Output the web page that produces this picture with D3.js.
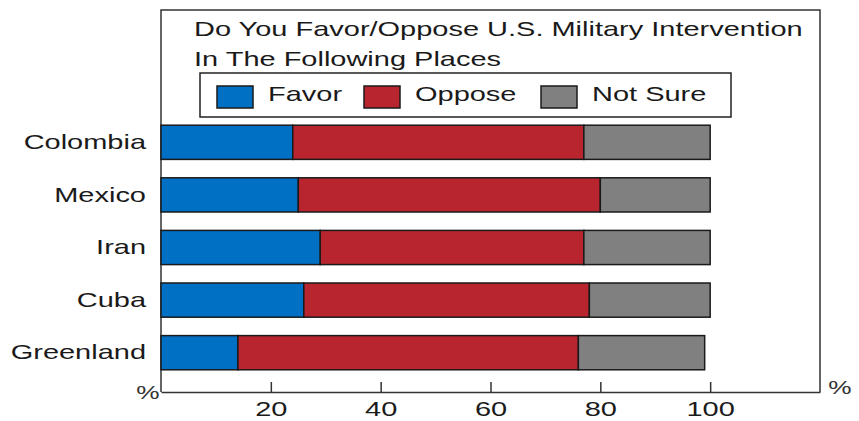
<!DOCTYPE html>
<html>
<head>
<meta charset="utf-8">
<script src="https://cdn.jsdelivr.net/npm/d3@7"></script>
<style>
  html, body { margin: 0; padding: 0; background: #fff; }
  svg { display: block; font-family: "Liberation Sans", Arial, sans-serif; }
</style>
</head>
<body>
<svg id="chart" width="859" height="421"></svg>
<script>
const categories = ["Colombia", "Mexico", "Iran", "Cuba", "Greenland"];
const seriesNames = ["Favor", "Oppose", "Not Sure"];
const favor   = [24, 25, 29, 26, 14];
const oppose  = [53, 55, 48, 52, 62];
const notSure = [23, 20, 23, 22, 23];
const tickValues = [20, 40, 60, 80, 100];
const titleLines = ["Do You Favor/Oppose U.S. Military Intervention", "In The Following Places"];
const colors = ["#0070C4", "#B8252F", "#808080"];

const svg = d3.select("#chart");
const plotLeft = 161, plotRight = 820, plotTop = 10, plotBottom = 392;
const SX = 1.38; // horizontal stretch of the reference's lettering
const FONT = "Liberation Sans, Arial, sans-serif";
const TXT = "#1a1a1a";

const x = d3.scaleLinear().domain([0, 120]).range([plotLeft, plotRight]);
const y = d3.scaleBand().domain(categories).range([116, 379]).paddingInner(0.35).paddingOuter(0.175);

const rows = categories.map((c, i) => ({ cat: c, Favor: favor[i], Oppose: oppose[i], "Not Sure": notSure[i] }));
const stacked = d3.stack().keys(seriesNames)(rows);
const color = d3.scaleOrdinal().domain(seriesNames).range(colors);

// helper: stretched text at (px,py)
function stretchedText(sel, px, py, str, size, anchor) {
  return sel.append("text")
    .attr("transform", `translate(${px},${py}) scale(${SX},1)`)
    .attr("text-anchor", anchor || "start")
    .attr("font-size", size).attr("font-family", FONT).attr("fill", TXT)
    .text(str);
}

// frame
svg.append("path")
  .attr("d", `M${plotLeft},${plotBottom}V${plotTop}H${plotRight}V${plotBottom}`)
  .attr("fill", "none").attr("stroke", "#333").attr("stroke-width", 1.5);

// bars
svg.append("g").selectAll("g").data(stacked).join("g")
  .attr("fill", d => color(d.key))
  .selectAll("rect").data(d => d).join("rect")
  .attr("x", d => x(d[0]))
  .attr("y", d => y(d.data.cat))
  .attr("width", d => x(d[1]) - x(d[0]))
  .attr("height", y.bandwidth())
  .attr("stroke", "#1a1a1a").attr("stroke-width", 1.5);

// x axis
const xAxis = svg.append("g").attr("transform", `translate(0,${plotBottom})`)
  .call(d3.axisBottom(x).tickValues(tickValues).tickSizeInner(-10).tickSizeOuter(0).tickPadding(9));
xAxis.select(".domain").attr("stroke", "#333").attr("stroke-width", 1.5);
xAxis.selectAll(".tick line").attr("stroke", "#333").attr("stroke-width", 1.5);
xAxis.selectAll(".tick text").attr("font-size", 21).attr("fill", TXT)
  .attr("font-family", FONT).attr("transform", `scale(${SX},1)`);

// y axis labels
const yAxis = svg.append("g").attr("transform", `translate(${plotLeft},0)`)
  .call(d3.axisLeft(y).tickSize(0).tickPadding(0));
yAxis.select(".domain").remove();
yAxis.selectAll(".tick text").attr("font-size", 21).attr("fill", TXT)
  .attr("font-family", FONT).attr("x", 0)
  .attr("transform", `translate(-15,0) scale(${SX},1)`);

// % labels
stretchedText(svg, 148, 399, "%", 19, "middle").attr("fill", "#333");
stretchedText(svg, 840, 394, "%", 19, "middle").attr("fill", "#333");

// title
titleLines.forEach((t, i) => stretchedText(svg, 194, 36 + i * 30, t, 21, "start"));

// legend
const legend = svg.append("g");
legend.append("rect").attr("x", 200).attr("y", 73).attr("width", 531).attr("height", 44)
  .attr("fill", "#fff").attr("stroke", "#222").attr("stroke-width", 1.5);
const legendX = [217, 364, 541];
const items = legend.selectAll("g.item").data(seriesNames).join("g").attr("class", "item")
  .attr("transform", (d, i) => `translate(${legendX[i]},86)`);
items.append("rect").attr("width", 36).attr("height", 22)
  .attr("fill", d => color(d)).attr("stroke", "#1a1a1a").attr("stroke-width", 1.5);
items.each(function(d) { stretchedText(d3.select(this), 51, 15, d, 21, "start"); });
</script>
</body>
</html>
